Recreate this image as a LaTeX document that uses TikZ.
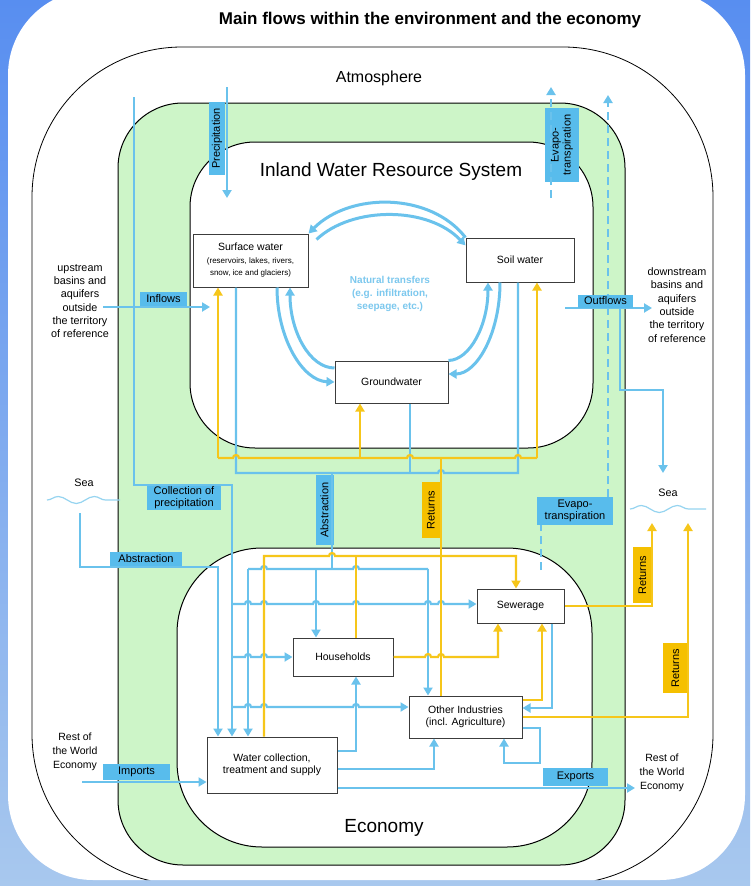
\documentclass[tikz,border=0pt]{standalone}
\usepackage{fontspec}
\setmainfont{Liberation Sans}
\usetikzlibrary{arrows.meta,decorations.pathmorphing}
\definecolor{bgtop}{RGB}{88,142,240}
\definecolor{bgbot}{RGB}{168,200,238}
\definecolor{wline}{RGB}{106,194,236}
\definecolor{wfill}{RGB}{88,188,236}
\definecolor{rline}{RGB}{246,198,26}
\definecolor{rfill}{RGB}{245,192,0}
\definecolor{gzone}{RGB}{205,245,200}
\definecolor{ntext}{RGB}{124,200,238}
\definecolor{wave}{RGB}{150,212,240}
\definecolor{bxline}{RGB}{60,60,60}
% small bridges where two flows cross
\newcommand{\hopr}[2]{-- (#1-3,#2) arc[start angle=180,end angle=0,radius=3pt]}

\begin{document}
\begin{tikzpicture}[x=1pt,y=-1pt,
  box/.style={draw=bxline, line width=1pt, fill=white, align=center, inner sep=1pt, font=\fontsize{10.5}{12}\selectfont},
  bl/.style={draw=wline, line width=2.2pt},
  yl/.style={draw=rline, line width=2.2pt},
  ev/.style={bl, dash pattern=on 8pt off 5pt},
  nat/.style={draw=wline, line width=3pt},
  wlab/.style={fill=wfill, inner sep=0pt, align=center, font=\fontsize{11}{12}\selectfont},
  rlab/.style={fill=rfill, inner sep=0pt, rotate=90, font=\fontsize{11}{12}\selectfont},
  side/.style={align=center, font=\fontsize{10.8}{13.3}\selectfont},
  >={Triangle[length=8pt,width=9pt]}]
\useasboundingbox (0,0) rectangle (750,886);
\fill[top color=bgtop, bottom color=bgbot] (0,0) rectangle (750,886);
\fill[white, rounded corners=85pt] (8,-10) rectangle (745,880);

% zones
\begin{scope}
\clip[rounded corners=85pt] (8,-10) rectangle (745,880);
\draw[line width=0.8pt, rounded corners=150pt] (32,47) rectangle (713,884);
\end{scope}
\draw[line width=1pt, fill=gzone, rounded corners=65pt] (118,103) rectangle (625,865);
\draw[line width=1pt, fill=white, rounded corners=65pt] (190,142) rectangle (593,448);
\draw[line width=1pt, fill=white, rounded corners=85pt] (177,548) rectangle (592,847);

\node (ttl) at (430,20) {\fontsize{17}{20}\selectfont\bfseries Main flows within the environment and the economy};
\node (atmo) at (379,78) {\fontsize{16}{19}\selectfont Atmosphere};
\node (iwrs) at (391,172) {\fontsize{19}{22}\selectfont Inland Water Resource System};
\node (econ) at (384,828) {\fontsize{19}{22}\selectfont Economy};

% stocks and users
\node[box, minimum width=115pt, minimum height=53pt] (sw) at (250.5,260.5) {Surface water\\[1pt]{\fontsize{8}{10}\selectfont (reservoirs, lakes, rivers,}\\{\fontsize{8}{10}\selectfont snow, ice and glaciers)}};
\node[box, minimum width=108pt, minimum height=44pt] (soil) at (520,260) {Soil water};
\node[box, minimum width=113pt, minimum height=42pt] (gw) at (391.5,382) {Groundwater};
\node[box, minimum width=87pt, minimum height=34pt] (sew) at (520.5,606) {Sewerage};
\node[box, minimum width=100pt, minimum height=38pt] (hh) at (343,657) {Households};
\node[box, minimum width=113pt, minimum height=42pt] (oi) at (465.5,717) {Other Industries\\(incl. Agriculture)};
\node[box, minimum width=130pt, minimum height=56pt] (wc) at (272,765) {Water collection,\\treatment and supply};

\node[text=ntext, font=\fontsize{10}{13}\selectfont\bfseries, align=center] (natx) at (390,294) {Natural transfers\\(e.g. infiltration,\\seepage, etc.)};

\node[side] (up) at (80,301) {upstream\\basins and\\aquifers\\outside\\the territory\\of reference};
\node[side] (down) at (677,305) {downstream\\basins and\\aquifers\\outside\\the territory\\of reference};
\node[side] (seal) at (84,483) {Sea};
\node[side] (sear) at (668,493) {Sea};
\node[side, font=\fontsize{10.5}{14}\selectfont] (rowl) at (75,752) {Rest of\\the World\\Economy};
\node[side, font=\fontsize{10.5}{14}\selectfont] (rowr) at (662,773) {Rest of\\the World\\Economy};
\draw[draw=wave, line width=1.2pt, decorate, decoration={snake, amplitude=3.5pt, segment length=36pt}] (47,500) -- (120,500);
\draw[draw=wave, line width=1.2pt, decorate, decoration={snake, amplitude=3.5pt, segment length=36pt}] (630,509) -- (706,509);

% flow labels
\node[wlab, rotate=90, minimum width=73pt, minimum height=16pt] (lprec) at (217,138.5) {Precipitation};
\node[wlab, rotate=90, minimum width=74pt, minimum height=34pt] (levap) at (562,145) {Evapo-\\transpiration};
\node[wlab, minimum width=76pt, minimum height=28pt] (levap2) at (575,511) {Evapo-\\transpiration};
\node[wlab, minimum width=47pt, minimum height=15pt] (linf) at (163.5,299) {Inflows};
\node[wlab, minimum width=74pt, minimum height=25pt] (lcol) at (184,497.5) {Collection of\\precipitation};
\node[wlab, minimum width=72pt, minimum height=15pt] (labsl) at (146,559) {Abstraction};
\node[wlab, rotate=90, minimum width=70pt, minimum height=18pt] (labs) at (324.5,510) {Abstraction};
\node[wlab, minimum width=67pt, minimum height=16pt] (limp) at (136.5,772) {Imports};
\node[wlab, minimum width=65pt, minimum height=18pt] (lexp) at (575.5,777) {Exports};
\node[rlab, minimum width=56pt, minimum height=18pt] (lret1) at (431,510) {Returns};
\node[rlab, minimum width=56pt, minimum height=19pt] (lret2) at (642.5,575) {Returns};
\node[rlab, minimum width=50pt, minimum height=25pt] (lret3) at (675.5,668) {Returns};

% junction points
\coordinate (pr0) at (227,87);   \coordinate (pr1) at (227,198);
\coordinate (ev0) at (551,198);  \coordinate (ev1) at (551,87);
\coordinate (ee0) at (541,570);  \coordinate (ee1) at (608,95);
\coordinate (inf0) at (103,307); \coordinate (inf1) at (210,307);
\coordinate (of0) at (565,308);  \coordinate (of1) at (652,308);
\coordinate (of2) at (620,308);  \coordinate (ofs) at (663,473);
\coordinate (cp0) at (134,97);   \coordinate (cp1) at (232,485);
\coordinate (sa0) at (80,513);   \coordinate (sa1) at (218,567);
\coordinate (c1) at (232,604);   \coordinate (c2) at (232,657);  \coordinate (c3) at (232,707);
\coordinate (ib0) at (236,473);  \coordinate (ib1) at (518,473); \coordinate (ib2) at (410,473);
\coordinate (ab0) at (332,473);  \coordinate (ab1) at (332,569);
\coordinate (bb1) at (248,569);  \coordinate (bb2) at (316,569); \coordinate (bb3) at (428,569);
\coordinate (yb0) at (218,458);  \coordinate (yb1) at (537,458);
\coordinate (yb2) at (360,458);  \coordinate (yb3) at (441,458);
\coordinate (ey0) at (264,556);  \coordinate (ey1) at (516,556); \coordinate (ey2) at (356,556);
\coordinate (hs) at (498,657);   \coordinate (os) at (542,700);  \coordinate (so) at (552,708);
\coordinate (ss) at (652,523);   \coordinate (os2) at (688,523);
\coordinate (wh) at (356,751);   \coordinate (wo) at (434,769);  \coordinate (ex) at (635,788);
\coordinate (lp1) at (540,728);  \coordinate (lp2) at (504,763); \coordinate (im) at (82,782);

% atmosphere and neighbouring territories
\draw[bl,->] (pr0) -- (pr1);
\draw[ev,->] (ev0) -- (ev1);
\draw[ev] (ee0) -- (levap2.south -| ee0);
\draw[ev,->] (levap2.north -| ee1) -- (ee1);
\draw[bl,->] (inf0) -- (inf1);
\draw[bl,->] (of0) -- (of1);
\draw[bl,->] (of2) -- (620,390) -| (ofs);
\node[wlab, minimum width=55pt, minimum height=13pt] (lout) at (605.5,301) {Outflows};

% natural transfers
\draw[nat,->] (soil.north west) .. controls (430,192) and (350,192) .. (sw.north east);
\draw[nat,->] ([xshift=8pt,yshift=-6pt]sw.north east) .. controls (352,206) and (428,206) .. (soil.165);
\draw[nat,->] ([xshift=26.5pt]sw.south) .. controls (277,339) and (303,381) .. (gw.west);
\draw[nat,->] ([yshift=14pt]gw.west) .. controls (310,368) and (290,332) .. ([xshift=39.5pt]sw.south);
\draw[nat,->] ([xshift=-20pt]soil.south) .. controls (500,333) and (477,374) .. (gw.8);
\draw[nat,->] (gw.north east) .. controls (470,360) and (488,325) .. ([xshift=-32pt]soil.south);

% abstraction
\draw[bl] (sw.south -| ib0) -- (ib0) \hopr{441}{473} -- (ib1) -- (soil.south -| ib1);
\draw[bl] (gw.south -| ib2) -- (ib2);
\draw[bl] (ab0) -- (ab1);
\draw[bl] (bb1) \hopr{264}{569} \hopr{356}{569} -- (bb3);
\draw[bl,->] (bb1) -- (wc.north -| bb1);
\draw[bl,->] (bb2) -- (hh.north -| bb2);
\draw[bl,->] (bb3) -- (oi.north -| bb3);
\draw[bl,->] (sa0) |- (sa1) -- (wc.north -| sa1);
\draw[bl,->] (cp0) |- (cp1) -- (wc.north -| cp1);
\draw[bl,->] (c1) \hopr{248}{604} \hopr{264}{604} \hopr{316}{604} \hopr{356}{604} \hopr{428}{604} \hopr{441}{604} -- (sew.west |- c1);
\draw[bl,->] (c2) \hopr{248}{657} \hopr{264}{657} -- (hh.west |- c2);
\draw[bl,->] (c3) \hopr{248}{707} \hopr{264}{707} \hopr{356}{707} -- (oi.west |- c3);

% supply inside the economy
\draw[bl,->] (wc.east |- wh) -- (wh) -- (hh.south -| wh);
\draw[bl,->] (wc.east |- wo) -| (oi.south -| wo);
\draw[bl,->] (wc.east |- ex) -- (ex);
\draw[bl,->] (oi.east |- lp1) -- (lp1) |- (lp2) -- (oi.south -| lp2);
\draw[bl,->] (sew.south -| so) -- (so) -- (oi.east |- so);
\draw[bl,->] (im) -- (wc.west |- im);

% returns
\draw[yl] (yb0) \hopr{236}{458} \hopr{410}{458} \hopr{518}{458} -- (yb1);
\draw[yl,->] (yb0) -- (sw.south -| yb0);
\draw[yl,->] (yb2) -- (gw.south -| yb2);
\draw[yl,->] (yb1) -- (soil.south -| yb1);
\draw[yl] (oi.north -| yb3) -- (yb3);
\draw[yl,->] (wc.north -| ey0) -- (ey0) \hopr{332}{556} -- (ey1) -- (sew.north -| ey1);
\draw[yl] (hh.north -| ey2) -- (ey2);
\draw[yl,->] (hh.east |- hs) \hopr{428}{657} \hopr{441}{657} -- (hs) -- (sew.south -| hs);
\draw[yl,->] (oi.east |- os) -- (os) -- (sew.south -| os);
\draw[yl,->] (sew.east) -| (ss);
\draw[yl,->] (oi.east) -| (os2);
\end{tikzpicture}
\end{document}
